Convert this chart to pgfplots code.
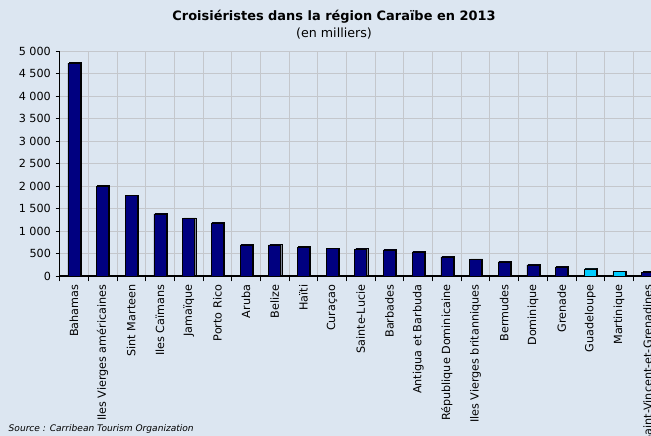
\documentclass[border=0pt]{standalone}
\usepackage{pgfplots}
\pgfplotsset{compat=1.18}
\usepackage{fontspec}
\setmainfont{DejaVu Sans}

\definecolor{bg}{RGB}{220,230,241}
\definecolor{navybar}{RGB}{0,0,128}
\definecolor{cyanbar}{RGB}{0,204,255}
\definecolor{gridc}{RGB}{196,199,204}
\definecolor{shadowc}{RGB}{130,136,150}

\begin{document}
\begin{tikzpicture}[x=0.75pt,y=0.75pt]
% background of the whole chart (651 x 436 px)
\fill[bg] (0,0) rectangle (651,436);

\begin{axis}[
    at={(44.7pt,120pt)}, anchor=south west,
    scale only axis,
    width=451.8pt, height=168.75pt,
    ybar, bar width=9pt,
    xmin=-0.5, xmax=20.5,
    ymin=0, ymax=5000,
    ytick={0,500,...,5000},
    xtick={0,...,20},
    xticklabels={Bahamas, Iles Vierges américaines, Sint Marteen, Iles Caïmans,
        Jamaïque, Porto Rico, Aruba, Belize, Haïti, Curaçao, Sainte-Lucie,
        Barbades, Antigua et Barbuda, République Dominicaine,
        Iles Vierges britanniques, Bermudes, Dominique, Grenade, Guadeloupe,
        Martinique, Saint-Vincent-et-Grenadines},
    minor xtick={-0.5,0.5,...,20.5},
    major x tick style={draw=none},
    xminorgrids=true, ymajorgrids=true,
    grid style={gridc, line width=0.6pt},
    axis lines=left,
    axis line style={-, black, line width=0.8pt},
    tick align=outside,
    major tick length=3pt, minor tick length=4pt,
    tick style={black, line width=0.6pt},
    /pgf/number format/assume math mode=true,
    /pgf/number format/1000 sep={\ },
    yticklabel style={font=\fontsize{8.4}{10}\selectfont},
    xticklabel style={font=\fontsize{8.4}{10}\selectfont, rotate=90, anchor=east},
    clip=true,
]
\addplot[fill=navybar, draw=black, line width=0.5pt, bar shift=0pt,
    preaction={fill=shadowc, transform canvas={xshift=0.9pt, yshift=0.4pt}}]
  coordinates {(0,4730) (1,2000) (2,1785) (3,1380) (4,1280) (5,1180)
    (6,689) (7,689) (8,644) (9,607) (10,600) (11,578) (12,535) (13,425)
    (14,366) (15,313) (16,246) (17,201) (20,83)};
\addplot[fill=cyanbar, draw=black, line width=0.5pt, bar shift=0pt,
    preaction={fill=shadowc, transform canvas={xshift=0.9pt, yshift=0.4pt}}]
  coordinates {(18,156) (19,96)};
\end{axis}

\node[font=\bfseries\fontsize{9.7}{11}\selectfont] at (334,419) {Croisiéristes dans la région Caraïbe en 2013};
\node[font=\fontsize{9.5}{11}\selectfont] at (334,402) {(en milliers)};
\node[anchor=west, font=\itshape\fontsize{6.8}{8}\selectfont] at (4,7) {Source : Carribean Tourism Organization};

\pgfresetboundingbox
\useasboundingbox (0,0) rectangle (651,436);
\end{tikzpicture}
\end{document}
